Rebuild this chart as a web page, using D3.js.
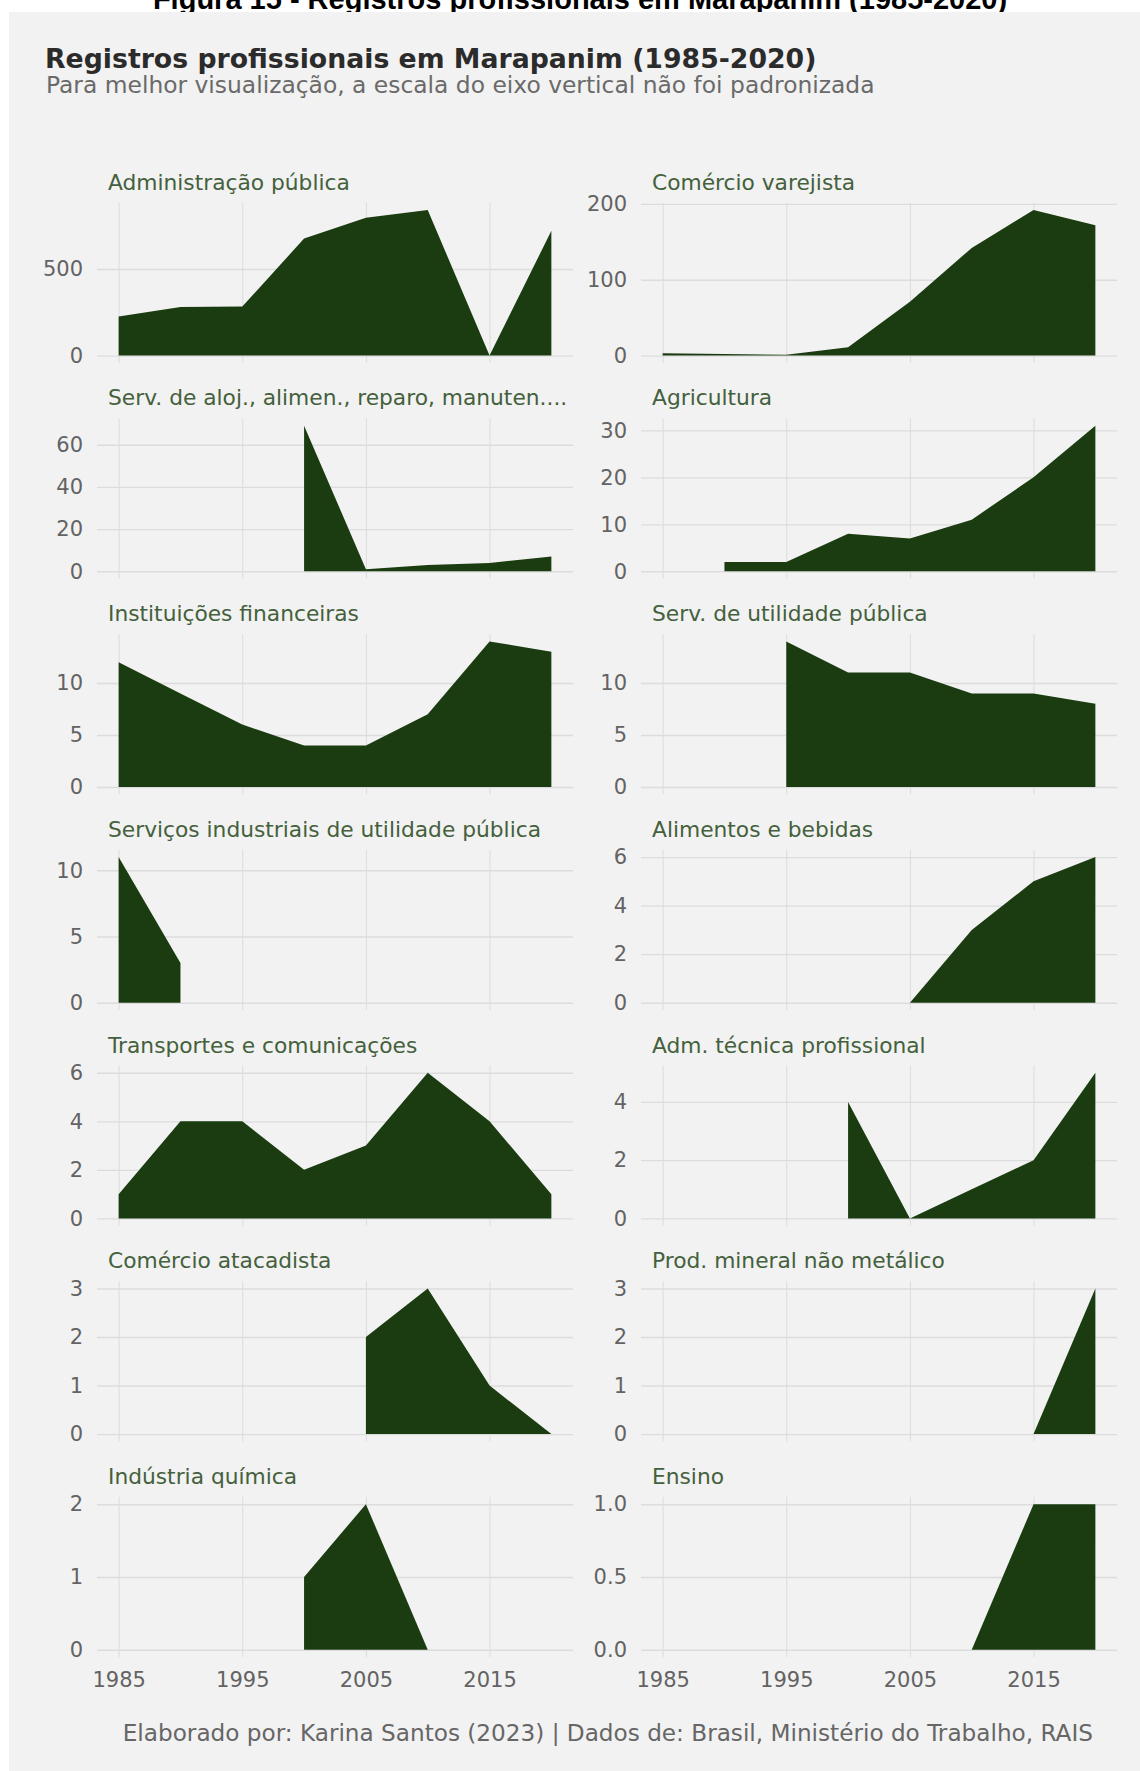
<!DOCTYPE html>
<html lang="pt-BR">
<head>
<meta charset="UTF-8">
<title>Registros profissionais em Marapanim (1985-2020)</title>
<script src="https://cdn.jsdelivr.net/npm/d3@7"></script>
<style>
  body { margin: 0; background: #fff; }
  svg text { font-family: "DejaVu Sans", sans-serif; }
</style>
</head>
<body>
<div id="chart"></div>
<script>
// anos (a cada 5) e marcas do eixo x
const years = [1985, 1990, 1995, 2000, 2005, 2010, 2015, 2020];
const xTicks = [1985, 1995, 2005, 2015];

const sectors = [
  "Administração pública",
  "Comércio varejista",
  "Serv. de aloj., alimen., reparo, manuten....",
  "Agricultura",
  "Instituições financeiras",
  "Serv. de utilidade pública",
  "Serviços industriais de utilidade pública",
  "Alimentos e bebidas",
  "Transportes e comunicações",
  "Adm. técnica profissional",
  "Comércio atacadista",
  "Prod. mineral não metálico",
  "Indústria química",
  "Ensino"
];

// registros por ano (null = sem dado)
const adminPublica       = [225, 280, 283, 675, 795, 840, 0, 720];
const comercioVarejista  = [3, 2, 1, 11, 71, 142, 192, 172];
const servAloj           = [null, null, null, 69, 1, 3, 4, 7];
const agricultura        = [null, 2, 2, 8, 7, 11, 20, 31];
const instFinanceiras    = [12, 9, 6, 4, 4, 7, 14, 13];
const servUtilPublica    = [null, null, 14, 11, 11, 9, 9, 8];
const servIndustriais    = [11, 3, null, null, null, null, null, null];
const alimentosBebidas   = [null, null, null, null, 0, 3, 5, 6];
const transportes        = [1, 4, 4, 2, 3, 6, 4, 1];
const admTecnica         = [null, null, null, 4, 0, 1, 2, 5];
const comercioAtacadista = [null, null, null, null, 2, 3, 1, 0];
const prodMineral        = [null, null, null, null, null, null, 0, 3];
const industriaQuimica   = [null, null, null, 1, 2, 0, null, null];
const ensino             = [null, null, null, null, null, 0, 1, 1];

// marcas do eixo y de cada painel
const yTicks = [
  [0, 500], [0, 100, 200], [0, 20, 40, 60], [0, 10, 20, 30],
  [0, 5, 10], [0, 5, 10], [0, 5, 10], [0, 2, 4, 6],
  [0, 2, 4, 6], [0, 2, 4], [0, 1, 2, 3], [0, 1, 2, 3],
  [0, 1, 2], [0, 0.5, 1]
];

const series = [adminPublica, comercioVarejista, servAloj, agricultura,
  instFinanceiras, servUtilPublica, servIndustriais, alimentosBebidas,
  transportes, admTecnica, comercioAtacadista, prodMineral,
  industriaQuimica, ensino];

const W = 1140, H = 1771;
const colX = [97, 641];
const panelW = 476, panelH = 160.2;
const firstTop = 202.7, rowStep = 215.7;
const nRows = Math.ceil(sectors.length / 2);

const fill = "#1b3c10";
const gridCol = "#dcdcdc";
const labelCol = "#636363";

const svg = d3.select("#chart").append("svg")
  .attr("width", W)
  .attr("height", H);

function fitWidth(sel, target) {
  const fs = parseFloat(sel.attr("font-size"));
  const w = sel.node().getComputedTextLength();
  sel.attr("font-size", fs * target / w);
}

// legenda da figura (cortada pelo painel cinza, como no original)
svg.append("text")
  .attr("x", 580)
  .attr("y", 9)
  .attr("text-anchor", "middle")
  .attr("font-size", 29)
  .attr("font-weight", "bold")
  .style("font-family", "'Liberation Sans', Arial, sans-serif")
  .attr("fill", "#000")
  .text("Figura 15 - Registros profissionais em Marapanim (1985-2020)");

svg.append("rect")
  .attr("x", 9).attr("y", 12)
  .attr("width", W - 9).attr("height", H - 12)
  .attr("fill", "#f2f2f2");

const title = svg.append("text")
  .attr("x", 45).attr("y", 68)
  .attr("font-size", 26)
  .attr("font-weight", "bold")
  .attr("fill", "#2b2b2b")
  .text("Registros profissionais em Marapanim (1985-2020)");
fitWidth(title, 772);

const subtitle = svg.append("text")
  .attr("x", 46).attr("y", 93)
  .attr("font-size", 20)
  .attr("fill", "#6a6a6a")
  .text("Para melhor visualização, a escala do eixo vertical não foi padronizada");
fitWidth(subtitle, 829);

const xPad = (d3.max(years) - d3.min(years)) * 0.05;

const strips = [];

sectors.forEach((name, i) => {
  const r = Math.floor(i / 2), c = i % 2;
  const x0 = colX[c], top = firstTop + r * rowStep;
  const vals = series[i];
  const data = years.map((yr, k) => ({ year: yr, v: vals[k] }));
  const maxV = d3.max(vals);

  const x = d3.scaleLinear()
    .domain([d3.min(years) - xPad, d3.max(years) + xPad])
    .range([x0, x0 + panelW]);
  const y = d3.scaleLinear()
    .domain([-0.05 * maxV, 1.05 * maxV])
    .range([top + panelH, top]);

  const g = svg.append("g").attr("class", "panel");

  const fmt = yTicks[i].some(t => t % 1 !== 0) ? d3.format(".1f") : d3.format("d");

  // grade horizontal + rótulos y
  const yAxis = g.append("g")
    .attr("transform", `translate(${x0},0)`)
    .call(d3.axisLeft(y).tickValues(yTicks[i]).tickSize(-panelW).tickPadding(14).tickFormat(fmt));
  yAxis.select(".domain").remove();
  yAxis.selectAll("line").attr("stroke", gridCol).attr("stroke-width", 1.4);
  yAxis.selectAll("text").attr("font-size", 21).attr("fill", labelCol)
    .style("font-family", "'DejaVu Sans', sans-serif");

  // grade vertical + rótulos x (só na última linha)
  const lastRow = r === nRows - 1;
  const xAxis = g.append("g")
    .attr("transform", `translate(0,${top + panelH})`)
    .call(d3.axisBottom(x).tickValues(xTicks).tickSize(-panelH).tickPadding(15)
      .tickFormat(lastRow ? d3.format("d") : () => ""));
  xAxis.select(".domain").remove();
  xAxis.selectAll("line").attr("stroke", gridCol).attr("stroke-width", 1);
  xAxis.selectAll("text").attr("font-size", 21).attr("fill", labelCol)
    .style("font-family", "'DejaVu Sans', sans-serif");

  const area = d3.area()
    .defined(d => d.v != null)
    .x(d => x(d.year))
    .y0(y(0))
    .y1(d => y(d.v));

  g.append("path")
    .datum(data)
    .attr("fill", fill)
    .attr("d", area);

  const s = g.append("text")
    .attr("x", x0 + 11)
    .attr("y", top - 13)
    .attr("font-size", 20)
    .attr("fill", "#44603c")
    .text(name);
  strips.push(s);
});

// mesmo tamanho para todos os títulos dos painéis
const fs0 = parseFloat(strips[0].attr("font-size"));
const k = 242 / strips[0].node().getComputedTextLength();
strips.forEach(s => s.attr("font-size", fs0 * k));

const caption = svg.append("text")
  .attr("x", 1093).attr("y", 1741)
  .attr("text-anchor", "end")
  .attr("font-size", 20)
  .attr("fill", "#666")
  .text("Elaborado por: Karina Santos (2023) | Dados de: Brasil, Ministério do Trabalho, RAIS");
fitWidth(caption, 971);
</script>
</body>
</html>
